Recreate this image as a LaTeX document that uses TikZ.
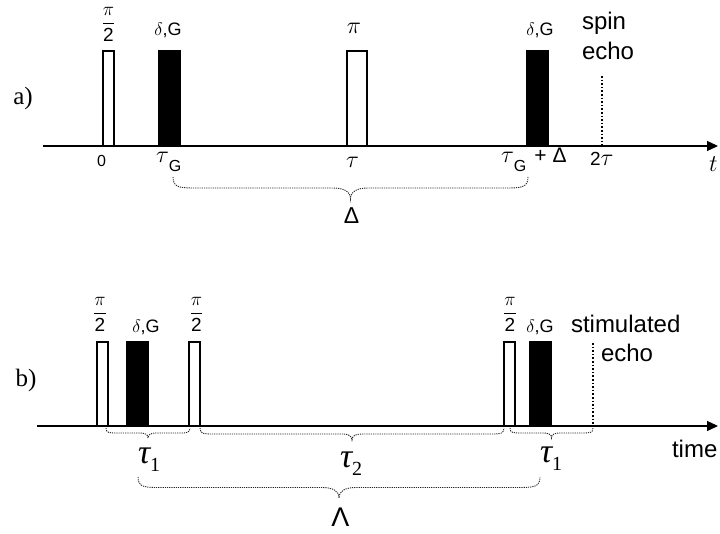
\RequirePackage{fix-cm}
\documentclass[tikz,border=0pt]{standalone}
\usepackage{amsmath}
\usepackage{fontspec}
\setmainfont{Liberation Sans}
\newfontfamily\serifrm{Liberation Serif}
\usetikzlibrary{arrows.meta}

\tikzset{
  lab/.style={inner sep=0pt, outer sep=0pt},
  pulse/.style={draw=black, line width=1.2pt, inner sep=0pt, outer sep=0pt, anchor=south west},
  wpulse/.style={pulse, fill=white},
  bpulse/.style={pulse, fill=black},
  axisline/.style={line width=1.3pt, -{Triangle[length=11pt,width=10pt]}},
  echoline/.style={line width=1.6pt, dash pattern=on 1.6pt off 2pt},
  bracestyle/.style={line width=0.9pt, dash pattern=on 1.2pt off 1pt, black!85},
  frac/.style={lab, font=\fontsize{19}{21}\selectfont},
  dg/.style={lab, font=\fontsize{18}{20}\selectfont},
}

\newcommand{\halfpi}{$\dfrac{\pi}{\mbox{2}}$}
\newcommand{\tauG}{{\fontsize{24}{26}\selectfont$\tau$}\raisebox{-9pt}{\fontsize{16}{16}\selectfont G}}
\newcommand{\bigtau}[1]{{\serifrm\itshape\fontsize{34}{34}\selectfont τ}\raisebox{-8pt}{\serifrm\fontsize{20}{20}\selectfont #1}}

\newcommand{\dotbrace}[5]{%
  \pgfmathsetmacro\brxa{#2}\pgfmathsetmacro\brxb{#3}\pgfmathsetmacro\bry{#4}\pgfmathsetmacro\brh{#5}%
  \pgfmathsetmacro\brxm{(\brxa+\brxb)/2}\pgfmathsetmacro\brw{2.2*\brh}\pgfmathsetmacro\brt{1.6*\brh}%
  \coordinate (#1-l) at (\brxa,\bry);
  \coordinate (#1-r) at (\brxb,\bry);
  \coordinate (#1-tip) at (\brxm,\bry+2*\brh);
  \draw[bracestyle] (#1-l) .. controls (\brxa,\bry+\brh) and (\brxa+0.3*\brw,\bry+\brh) .. (\brxa+\brw,\bry+\brh)
     -- (\brxm-\brt,\bry+\brh) .. controls (\brxm-0.4*\brt,\bry+\brh) and (\brxm,\bry+1.3*\brh) .. (#1-tip)
     .. controls (\brxm,\bry+1.3*\brh) and (\brxm+0.4*\brt,\bry+\brh) .. (\brxm+\brt,\bry+\brh)
     -- (\brxb-\brw,\bry+\brh) .. controls (\brxb-0.3*\brw,\bry+\brh) and (\brxb,\bry+\brh) .. (#1-r);
}

\begin{document}
\begin{tikzpicture}[x=1pt,y=-1pt]
\useasboundingbox (0,0) rectangle (720,534);

% ---------------- panel a ----------------
\node[lab, font=\serifrm\fontsize{25}{27}\selectfont] (la) at (23,98) {a)};
\coordinate (a0) at (43,146);
\coordinate (a1) at (718,146);
\draw[axisline] (a0) -- (a1);

\node[wpulse, minimum width=11pt, minimum height=95pt] (ap1) at (103,146) {};
\node[bpulse, minimum width=21pt, minimum height=95pt] (ag1) at (159,146) {};
\node[wpulse, minimum width=20pt, minimum height=95pt] (ap2) at (347,146) {};
\node[bpulse, minimum width=21pt, minimum height=95pt] (ag2) at (527,146) {};
\coordinate (ae0) at (602,76);
\coordinate (ae1) at (602,146);
\draw[echoline] (ae0) -- (ae1);

\node[frac] (alp1) at (108.5,24) {\halfpi};
\node[dg] (alg1) at (168,30) {$\delta$,G};
\node[lab, font=\fontsize{24}{26}\selectfont] (alp2) at (354,28) {$\pi$};
\node[dg] (alg2) at (540,30) {$\delta$,G};
\node[lab, font=\fontsize{24}{30}\selectfont, anchor=base west] (aspin) at (582,30) {spin};
\node[lab, font=\fontsize{24}{30}\selectfont, anchor=base west] (aecho) at (582,60) {echo};

\node[lab, font=\fontsize{16}{18}\selectfont] (at0) at (101.5,160.5) {0};
\node[lab, anchor=base west] (atg) at (156,163) {\tauG};
\node[lab, font=\fontsize{24}{26}\selectfont, anchor=base] (atau) at (352.5,168) {$\tau$};
\node[lab, anchor=base west] (atgd) at (501,163) {\tauG{\fontsize{21}{23}\selectfont\hspace{8pt}+\hspace{6pt}Δ}};
\node[lab, font=\fontsize{19}{21}\selectfont, anchor=base west] (a2t) at (590,166) {2{\fontsize{24}{26}\selectfont$\tau$}};
\node[lab, font=\fontsize{24}{26}\selectfont, anchor=base west] (at) at (709,172) {$t$};

\dotbrace{abr}{173}{528}{177}{11}
\node[lab, font=\fontsize{23}{25}\selectfont] (adelta) at (351.5,215.5) {Δ};

% ---------------- panel b ----------------
\node[lab, font=\serifrm\fontsize{25}{27}\selectfont] (lb) at (26,380) {b)};
\coordinate (b0) at (37,426);
\coordinate (b1) at (718,426);
\draw[axisline] (b0) -- (b1);

\node[wpulse, minimum width=11pt, minimum height=84pt] (bp1) at (97,426) {};
\node[bpulse, minimum width=21pt, minimum height=84pt] (bg1) at (127,426) {};
\node[wpulse, minimum width=11pt, minimum height=84pt] (bp2) at (189,426) {};
\node[wpulse, minimum width=11pt, minimum height=84pt] (bp3) at (504,426) {};
\node[bpulse, minimum width=21pt, minimum height=84pt] (bg2) at (530,426) {};
\coordinate (be0) at (593,343);
\coordinate (be1) at (593,426);
\draw[echoline] (be0) -- (be1);

\node[frac] (blp1) at (100,314) {\halfpi};
\node[dg] (blg1) at (146,327) {$\delta$,G};
\node[frac] (blp2) at (196.5,314) {\halfpi};
\node[frac] (blp3) at (510,314) {\halfpi};
\node[dg] (blg2) at (540,327) {$\delta$,G};
\node[lab, font=\fontsize{24}{30}\selectfont, anchor=base west] (bstim) at (571,333) {stimulated};
\node[lab, font=\fontsize{24}{30}\selectfont, anchor=base west] (becho) at (601,362) {echo};
\node[lab, font=\fontsize{24}{30}\selectfont, anchor=base west] (btime) at (672,457) {time};

\dotbrace{bbr1}{106}{190}{428}{5}
\dotbrace{bbr2}{200}{504}{428}{6}
\dotbrace{bbr3}{510}{593}{428}{5}
\dotbrace{bbr4}{138}{540}{477}{10.5}

\node[lab, anchor=base west] (bt1) at (138,463) {\bigtau{1}};
\node[lab, anchor=base west] (bt2) at (340,467) {\bigtau{2}};
\node[lab, anchor=base west] (bt3) at (540,462) {\bigtau{1}};
\node[lab, font=\fontsize{27}{29}\selectfont] (blam) at (340.5,517.5) {Λ};
\end{tikzpicture}
\end{document}
